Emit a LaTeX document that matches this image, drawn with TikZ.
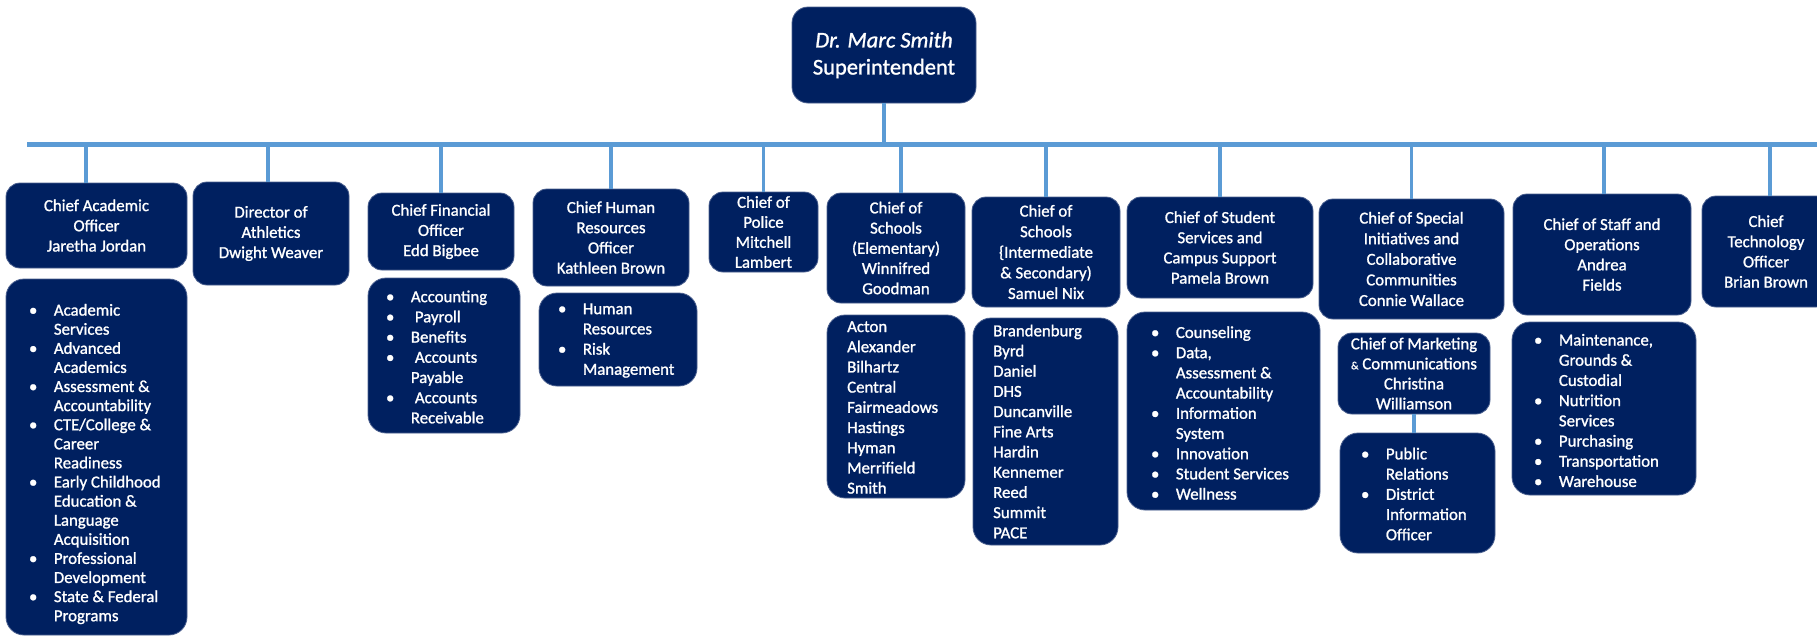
\documentclass[tikz,border=0pt]{standalone}
\usepackage{fontspec}
\setmainfont{Carlito}[FakeBold=1.2]
\definecolor{navy}{HTML}{002060}
\definecolor{navyedge}{HTML}{4A5F8E}
\definecolor{linkblue}{HTML}{5B9BD5}

% heavier white lettering on the dark boxes
\newcommand\boxfont[2]{\fontsize{#1}{#2}\selectfont\addfontfeatures{FakeBold=1.2}}

% one bulleted line and one continuation line of a duty list
\newcommand\bitem[1]{\makebox[0pt][c]{\textbullet}\hspace{20.7pt}#1}
\newcommand\bcont[1]{\hspace*{20.7pt}#1}

\tikzset{
  orgbox/.style={rectangle, rounded corners=14pt, fill=navy, draw=navyedge,
    line width=0.8pt, text=white, inner sep=0pt, align=center,
    font={\boxfont{16.8}{20.2}}},
  listbox/.style={orgbox, rounded corners=18pt},
  listtext/.style={anchor=west, inner sep=0pt, text=white, align=left,
    font={\boxfont{16.8}{20.2}}},
  bar/.style={draw=linkblue, line width=4.5pt},
  drop/.style={draw=linkblue, line width=3.2pt},
}

\begin{document}
\begin{tikzpicture}[x=1pt, y=-1pt]
\useasboundingbox (0,0) rectangle (1817,637);

% superintendent
\node[orgbox, rounded corners=16pt, minimum width=184pt, minimum height=96pt,
      font={\boxfont{22.5}{27}}] (sup) at (884,55)
  {\textit{Dr. Marc Smith}\\Superintendent};

% cabinet row
\node[orgbox, minimum width=181pt, minimum height=85pt] (cao) at (96.5,225.5)
  {Chief Academic\\Officer\\Jaretha Jordan};
\node[orgbox, minimum width=156pt, minimum height=103pt] (ath) at (271,233.5)
  {Director of\\Athletics\\Dwight Weaver};
\node[orgbox, minimum width=146pt, minimum height=77pt] (cfo) at (441,231.5)
  {Chief Financial\\Officer\\Edd Bigbee};
\node[orgbox, minimum width=156pt, minimum height=97pt] (chro) at (611,237.5)
  {Chief Human\\Resources\\Officer\\Kathleen Brown};
\node[orgbox, minimum width=109pt, minimum height=80pt, font={\boxfont{16.8}{20}}] (pol) at (763.5,232)
  {Chief of\\Police\\Mitchell\\Lambert};
\node[orgbox, minimum width=138pt, minimum height=110pt] (elem) at (896,248)
  {Chief of\\Schools\\(Elementary)\\Winnifred\\Goodman};
\node[orgbox, minimum width=148pt, minimum height=110pt, font={\boxfont{16.8}{20.6}}] (inter) at (1046,252)
  {Chief of\\Schools\\\{Intermediate\\\& Secondary)\\Samuel Nix};
\node[orgbox, minimum width=186pt, minimum height=101pt] (ss) at (1220,247.5)
  {Chief of Student\\Services and\\Campus Support\\Pamela Brown};
\node[orgbox, minimum width=185pt, minimum height=120pt, font={\boxfont{16.8}{20.6}}] (spec) at (1411.5,259)
  {Chief of Special\\Initiatives and\\Collaborative\\Communities\\Connie Wallace};
\node[orgbox, minimum width=178pt, minimum height=121pt] (staff) at (1602,254.5)
  {Chief of Staff and\\Operations\\Andrea\\Fields};
\node[orgbox, minimum width=128pt, minimum height=111pt] (cto) at (1766,251.5)
  {Chief\\Technology\\Officer\\Brian Brown};

% marketing under special initiatives
\node[orgbox, minimum width=152pt, minimum height=81pt, font={\boxfont{16.8}{20}}] (mkt) at (1414,373.5)
  {Chief of Marketing\\{\fontsize{11}{13}\selectfont\&} Communications\\Christina\\Williamson};

% duty lists
\node[listbox, minimum width=181pt, minimum height=356pt] (caol) at (96.5,457) {};
\node[listtext, font={\boxfont{16.8}{19.1}}] (caolt) at (33,464) {%
  \bitem{Academic}\\\bcont{Services}\\
  \bitem{Advanced}\\\bcont{Academics}\\
  \bitem{Assessment \&}\\\bcont{Accountability}\\
  \bitem{CTE/College \&}\\\bcont{Career}\\\bcont{Readiness}\\
  \bitem{Early Childhood}\\\bcont{Education \&}\\\bcont{Language}\\\bcont{Acquisition}\\
  \bitem{Professional}\\\bcont{Development}\\
  \bitem{State \& Federal}\\\bcont{Programs}};

\node[listbox, minimum width=152pt, minimum height=155pt] (cfol) at (444,355.5) {};
\node[listtext] (cfolt) at (390,357) {%
  \bitem{Accounting}\\
  \bitem{\hspace{4pt}Payroll}\\
  \bitem{Benefits}\\
  \bitem{\hspace{4pt}Accounts}\\\bcont{Payable}\\
  \bitem{\hspace{4pt}Accounts}\\\bcont{Receivable}};

\node[listbox, minimum width=158pt, minimum height=93pt] (chrol) at (618,339.5) {};
\node[listtext] (chrolt) at (562,340.5) {%
  \bitem{Human}\\\bcont{Resources}\\
  \bitem{Risk}\\\bcont{Management}};

\node[listbox, minimum width=138pt, minimum height=183pt] (eleml) at (896,406.5) {};
\node[listtext] (elemlt) at (847,407.5) {%
  Acton\\Alexander\\Bilhartz\\Central\\Fairmeadows\\Hastings\\Hyman\\Merrifield\\Smith};

\node[listbox, minimum width=145pt, minimum height=227pt] (interl) at (1045.5,431.5) {};
\node[listtext] (interlt) at (993,431.5) {%
  Brandenburg\\Byrd\\Daniel\\DHS\\Duncanville\\Fine Arts\\Hardin\\Kennemer\\Reed\\Summit\\PACE};

\node[listbox, minimum width=193pt, minimum height=198pt] (ssl) at (1223.5,411) {};
\node[listtext] (sslt) at (1155,413) {%
  \bitem{Counseling}\\
  \bitem{Data,}\\\bcont{Assessment \&}\\\bcont{Accountability}\\
  \bitem{Information}\\\bcont{System}\\
  \bitem{Innovation}\\
  \bitem{Student Services}\\
  \bitem{Wellness}};

\node[listbox, minimum width=155pt, minimum height=120pt] (mktl) at (1417.5,493) {};
\node[listtext] (mktlt) at (1365,494) {%
  \bitem{Public}\\\bcont{Relations}\\
  \bitem{District}\\\bcont{Information}\\\bcont{Officer}};

\node[listbox, minimum width=184pt, minimum height=173pt] (staffl) at (1604,408.5) {};
\node[listtext] (stafflt) at (1538,410.5) {%
  \bitem{Maintenance,}\\\bcont{Grounds \&}\\\bcont{Custodial}\\
  \bitem{Nutrition}\\\bcont{Services}\\
  \bitem{Purchasing}\\
  \bitem{Transportation}\\
  \bitem{Warehouse}};

% connectors
\coordinate (barL) at (27,144.5);
\coordinate (barR) at (1817,144.5);
\draw[bar] (barL) -- (barR);
\draw[drop] (sup.south) -- (sup.south |- barL);
\draw[drop] ([xshift=-10.5pt]cao.north) -- ([xshift=-10.5pt]cao.north |- barL);
\draw[drop] ([xshift=-3pt]ath.north) -- ([xshift=-3pt]ath.north |- barL);
\draw[drop] (cfo.north) -- (cfo.north |- barL);
\draw[drop] (chro.north) -- (chro.north |- barL);
\draw[drop] (pol.north) -- (pol.north |- barL);
\draw[drop] ([xshift=5pt]elem.north) -- ([xshift=5pt]elem.north |- barL);
\draw[drop] (inter.north) -- (inter.north |- barL);
\draw[drop] (ss.north) -- (ss.north |- barL);
\draw[drop] (spec.north) -- (spec.north |- barL);
\draw[drop] ([xshift=2pt]staff.north) -- ([xshift=2pt]staff.north |- barL);
\draw[drop] ([xshift=4pt]cto.north) -- ([xshift=4pt]cto.north |- barL);
\draw[drop] (mkt.south) -- (mkt.south |- mktl.north);
\end{tikzpicture}
\end{document}
